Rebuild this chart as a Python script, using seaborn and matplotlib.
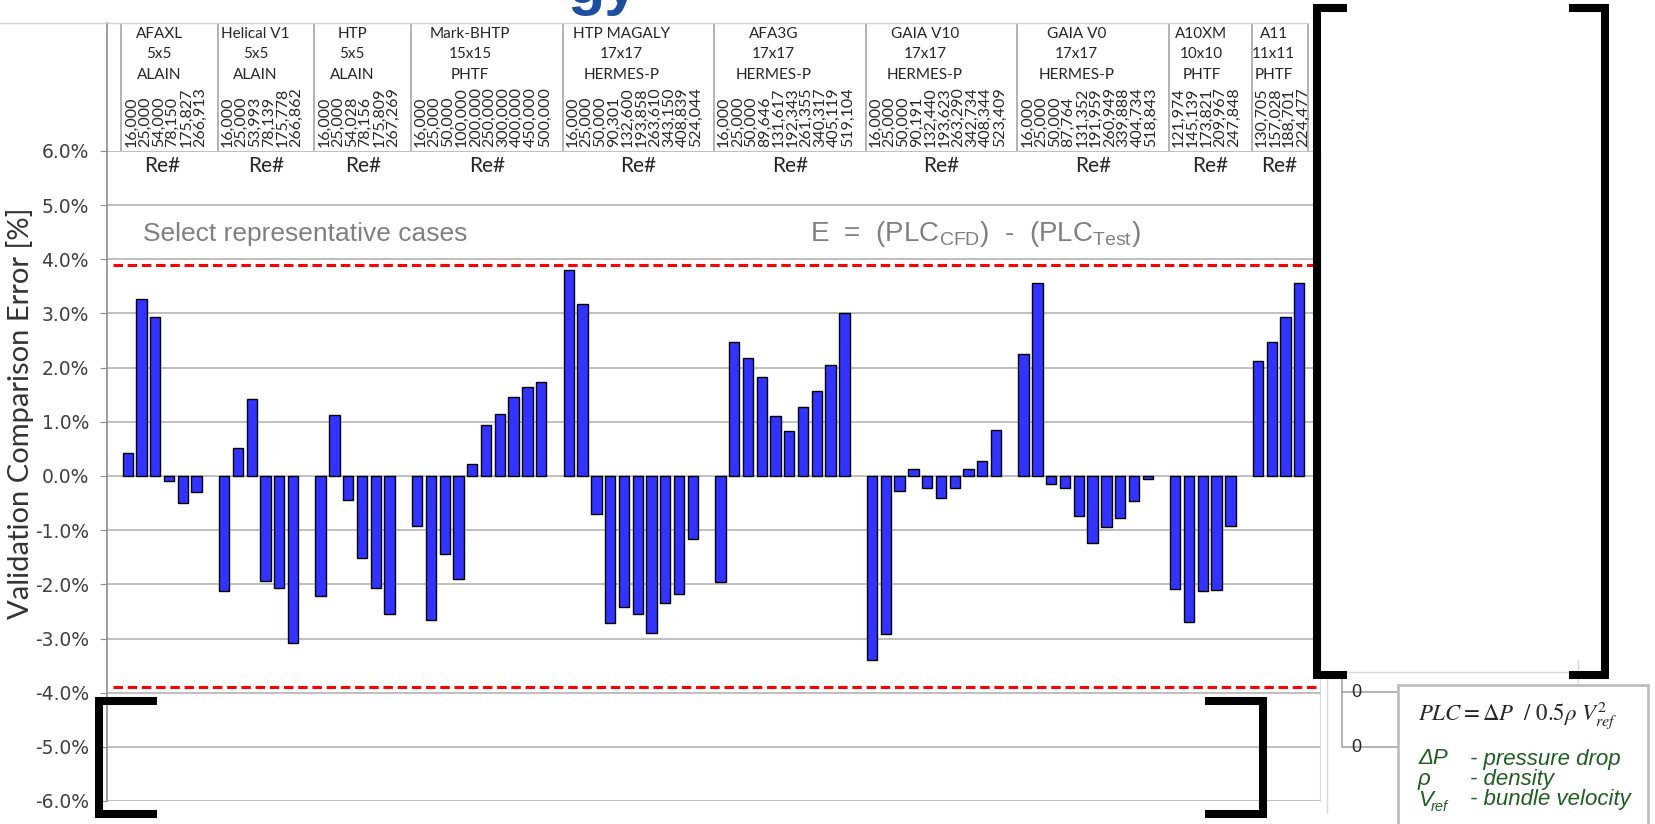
import numpy as np
import pandas as pd
import seaborn as sns
import matplotlib.pyplot as plt
from matplotlib.lines import Line2D
from matplotlib.patches import Rectangle

# data
group_names = ["AFAXL", "Helical V1", "HTP", "Mark-BHTP", "HTP MAGALY",
               "AFA3G", "GAIA V10", "GAIA V0", "A10XM", "A11"]
grid_sizes = ["5x5", "5x5", "5x5", "15x15", "17x17",
              "17x17", "17x17", "17x17", "10x10", "11x11"]
facilities = ["ALAIN", "ALAIN", "ALAIN", "PHTF", "HERMES-P",
              "HERMES-P", "HERMES-P", "HERMES-P", "PHTF", "PHTF"]
re_numbers = [
    ["16,000", "25,000", "54,000", "78,150", "175,827", "266,913"],
    ["16,000", "25,000", "53,993", "78,139", "175,778", "266,862"],
    ["16,000", "25,000", "54,028", "78,156", "175,809", "267,269"],
    ["16,000", "25,000", "50,000", "100,000", "200,000", "250,000",
     "300,000", "400,000", "450,000", "500,000"],
    ["16,000", "25,000", "50,000", "90,301", "132,600", "193,858",
     "263,610", "343,150", "408,839", "524,044"],
    ["16,000", "25,000", "50,000", "89,646", "131,617", "192,343",
     "261,355", "340,317", "405,119", "519,104"],
    ["16,000", "25,000", "50,000", "90,191", "132,440", "193,623",
     "263,290", "342,734", "408,344", "523,409"],
    ["16,000", "25,000", "50,000", "87,764", "131,352", "191,959",
     "260,949", "339,888", "404,734", "518,843"],
    ["121,974", "145,139", "173,821", "209,967", "247,848"],
    ["130,705", "157,028", "188,701", "224,477"],
]
errors = [
    [0.42, 3.27, 2.94, -0.10, -0.49, -0.30],
    [-2.12, 0.51, 1.42, -1.94, -2.07, -3.08],
    [-2.21, 1.13, -0.45, -1.52, -2.07, -2.54],
    [-0.92, -2.66, -1.44, -1.91, 0.22, 0.94, 1.14, 1.45, 1.64, 1.73],
    [3.80, 3.18, -0.70, -2.72, -2.42, -2.55, -2.90, -2.34, -2.18, -1.17],
    [-1.95, 2.48, 2.17, 1.82, 1.10, 0.83, 1.27, 1.57, 2.04, 3.00],
    [-3.40, -2.92, -0.27, 0.12, -0.23, -0.41, -0.23, 0.13, 0.27, 0.84],
    [2.26, 3.56, -0.15, -0.22, -0.73, -1.24, -0.94, -0.77, -0.46, -0.06],
    [-2.09, -2.70, -2.12, -2.10, -0.93],
    [2.13, 2.48, 2.94, 3.56],
]
error_limit = 3.9

# one empty slot before the first group and after every group
rows = []
starts = []
slot = 1
for gi, vals in enumerate(errors):
    starts.append(slot)
    for v in vals:
        rows.append({"slot": slot, "error": v, "group": group_names[gi]})
        slot += 1
    slot += 1
n_slots = slot
df = pd.DataFrame(rows)

sns.set_style("white")
plt.rcParams["font.family"] = ["Liberation Sans", "DejaVu Sans"]

W, H = 1656, 824
fig = plt.figure(figsize=(W / 100, H / 100), dpi=100)


def fx(px):
    return px / W


def fy(py):
    return 1 - py / H


ax = fig.add_axes([fx(107), fy(801), fx(1320) - fx(107), fy(151) - fy(801)])
hx = fig.add_axes([fx(107), fy(151), fx(1320) - fx(107), fy(22.7) - fy(151)], sharex=ax)

sns.barplot(data=df, x="slot", y="error", native_scale=True, color="#3333FF",
            saturation=1, edgecolor="black", linewidth=1, width=0.75,
            errorbar=None, ax=ax, zorder=3)

ax.set_xlim(-0.5, n_slots - 0.5)
ax.set_ylim(-6, 6)
ax.set_yticks(range(-6, 7))
ax.set_yticklabels([f"{v:.1f}%" for v in range(-6, 7)], family="DejaVu Sans")
ax.set_xticks([])
ax.set_xlabel("")
ax.set_ylabel("")
ax.grid(axis="y", color="#B4B4B4", lw=1.2)
ax.set_axisbelow(True)
for s in ["top", "bottom"]:
    ax.spines[s].set_visible(False)
ax.spines["left"].set_color("#8C8C8C")
ax.spines["left"].set_linewidth(1.2)
ax.spines["right"].set_color("#D9D9D9")
ax.tick_params(axis="y", length=5, color="#8C8C8C", labelsize=13.5,
               labelcolor="#404040", pad=8, left=True)

# limit lines
for v in (error_limit, -error_limit):
    ax.plot([-0.1, n_slots - 0.5], [v, v], color="#FF0000", lw=2.2,
            dashes=(3.1, 1.55), dash_capstyle="butt", zorder=4)

ax.text(2.08, 4.34, "Select representative cases", fontsize=19,
        color="#808080", va="baseline")
ax.text(50.5, 4.34,
        r"E  =  (PLC$_{\mathregular{CFD}}$)  -  (PLC$_{\mathregular{Test}}$)",
        fontsize=20, color="#808080", va="baseline")

# header table
hx.set_ylim(0, 1)
hx.tick_params(bottom=False, labelbottom=False, left=False, labelleft=False)
for s in ["top", "right", "bottom"]:
    hx.spines[s].set_visible(False)
hx.spines["left"].set_color("#8C8C8C")
hx.spines["left"].set_linewidth(1.2)

lefts = [s - 0.45 for s in starts]
rights = lefts[1:] + [starts[-1] + len(errors[-1]) - 1 + 0.6]
for b in lefts + [rights[-1]]:
    hx.plot([b, b], [0, 1], color="#A6A6A6", lw=1.2)

for i, name in enumerate(group_names):
    cx = lefts[i] + 0.39 * (rights[i] - lefts[i])
    for txt, yy in zip([name, grid_sizes[i], facilities[i]], [0.915, 0.755, 0.595]):
        hx.text(cx, yy, txt, ha="center", va="center", fontsize=11,
                family="Lato", color="#262626")
    for k, r in enumerate(re_numbers[i]):
        hx.text(starts[i] + 0.25 + k, 0.035, r, rotation=90, ha="center",
                va="bottom", fontsize=11.5, family="Lato", color="#262626")
    re_left = -0.5 if i == 0 else lefts[i]
    ax.text((re_left + rights[i]) / 2, 5.72, "Re#", ha="center", va="center",
            fontsize=15, family="Lato", color="#262626")

fig.add_artist(Line2D([0, fx(1308)], [fy(22.7), fy(22.7)], color="#D0D0D0", lw=1))

fig.text(fx(20), fy(413), "Validation Comparison Error [%]", rotation=90,
         fontsize=21, family="Lato", color="#333333", ha="center", va="center")

# cropped title fragment at the very top
fig.text(fx(567), fy(3), "gy", fontsize=44, color="#1F4E9E", fontweight="bold",
         va="baseline", ha="left")


# black brackets drawn over the chart
def bracket(x, y0, y1, serif):
    xs = [x + serif, x, x, x + serif]
    ys = [y0, y0, y1, y1]
    fig.add_artist(Line2D([fx(v) for v in xs], [fy(v) for v in ys], color="black",
                          lw=5.8, solid_joinstyle="miter", solid_capstyle="butt",
                          zorder=10))


# small leftover chart frame at the bottom right
light = "#D9D9D9"
fig.add_artist(Line2D([fx(1326.7)] * 2, [fy(676), fy(813)], color=light, lw=1))
fig.add_artist(Line2D([fx(1346), fx(1570)], [fy(671.7)] * 2, color=light, lw=1))
fig.add_artist(Line2D([fx(1578)] * 2, [fy(660), fy(685)], color=light, lw=1))
fig.add_artist(Line2D([fx(1341.7)] * 2, [fy(676), fy(747.3)], color="#A6A6A6", lw=1.2))
for yy in (692.3, 747.3):
    fig.add_artist(Line2D([fx(1341.7), fx(1398)], [fy(yy)] * 2, color="#A6A6A6", lw=1.2))
    fig.text(fx(1356.7), fy(yy), "0", fontsize=13, ha="center", va="center",
             color="#262626")

bracket(1317, 8, 675, 30)
bracket(1605, 8, 675, -36)
bracket(99, 701, 814, 58)
bracket(1263, 701, 814, -58)

# formula box
fig.add_artist(Rectangle((fx(1398), fy(830)), fx(1648) - fx(1398), fy(685) - fy(830),
                         transform=fig.transFigure, facecolor="white",
                         edgecolor="#BFBFBF", lw=2, zorder=5))
fig.text(fx(1418), fy(715), r"$PLC = \Delta P\ \ /\ 0.5\rho\ V_{ref}^{2}$",
         math_fontfamily="stix", fontsize=16.5, va="center", ha="left", zorder=6)
green = "#1D5E20"
fig.text(fx(1418), fy(759), "ΔP", style="italic", color=green, fontsize=16,
         va="center", zorder=6)
fig.text(fx(1418), fy(780), "ρ", style="italic", color=green, fontsize=16,
         va="center", zorder=6)
fig.text(fx(1418), fy(800), "V", style="italic", color=green, fontsize=16,
         va="center", zorder=6)
fig.text(fx(1431), fy(807), "ref", style="italic", color=green, fontsize=10.5,
         va="center", zorder=6)
for txt, yy in zip(["- pressure drop", "- density", "- bundle velocity"],
                   [759, 780, 800]):
    fig.text(fx(1470), fy(yy), txt, style="italic", color=green, fontsize=16,
             va="center", zorder=6)

fig.savefig("out.png", dpi=100)
